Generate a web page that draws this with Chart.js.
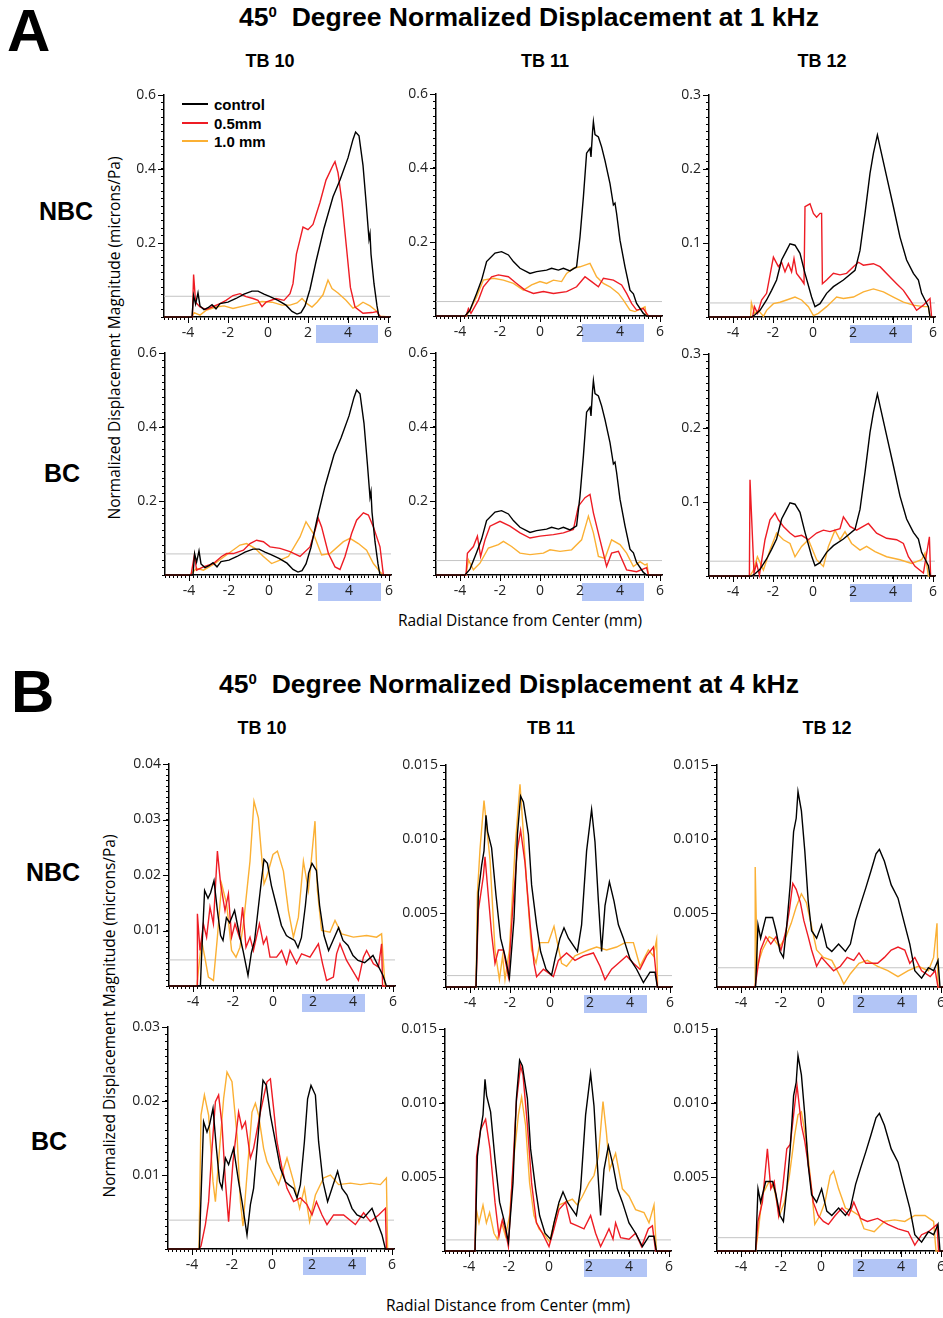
<!DOCTYPE html>
<html lang="en">
<head>
<meta charset="UTF-8">
<title>45 Degree Normalized Displacement</title>
<script src="https://cdn.jsdelivr.net/npm/chart.js"></script>
<style>
  body { margin: 0; background: #fff; overflow: hidden; }
  #fig { position: relative; width: 943px; height: 1318px; overflow: hidden; font-family: "Liberation Sans", Arial, sans-serif; color: #000; }
  .t { position: absolute; white-space: nowrap; line-height: 1; }
  .big { font-weight: bold; font-size: 60px; }
  .title { font-weight: bold; font-size: 26.5px; transform: translateX(-50%); }
  .title sup { font-size: 15px; vertical-align: 9px; }
  .tb { font-weight: bold; font-size: 18px; transform: translateX(-50%); }
  .grp { font-weight: bold; font-size: 25px; transform: translateX(-50%); }
  .ytitle { font-family: "Open Sans", sans-serif; font-size: 15.5px; transform: translate(-50%, -50%) rotate(-90deg); }
  .xtitle { font-family: "Open Sans", sans-serif; font-size: 15.5px; transform: translate(-50%, -50%); }
  .leg { font-weight: bold; font-size: 15px; }
  .legline { position: absolute; height: 2px; width: 26px; }
  canvas { position: absolute; }
</style>
</head>
<body>
<div id="fig">
  <div class="t big" style="left:7px; top:1px;">A</div>
  <div class="t big" style="left:11px; top:662px;">B</div>

  <div class="t title" style="left:529px; top:4px;">45<sup>0</sup>&nbsp; Degree Normalized Displacement at 1 kHz</div>
  <div class="t title" style="left:509px; top:671px;">45<sup>0</sup>&nbsp; Degree Normalized Displacement at 4 kHz</div>

  <div class="t tb" style="left:270px; top:52px;">TB 10</div>
  <div class="t tb" style="left:545px; top:52px;">TB 11</div>
  <div class="t tb" style="left:822px; top:52px;">TB 12</div>
  <div class="t tb" style="left:262px; top:719px;">TB 10</div>
  <div class="t tb" style="left:551px; top:719px;">TB 11</div>
  <div class="t tb" style="left:827px; top:719px;">TB 12</div>

  <div class="t grp" style="left:66px; top:199px;">NBC</div>
  <div class="t grp" style="left:62px; top:461px;">BC</div>
  <div class="t grp" style="left:53px; top:860px;">NBC</div>
  <div class="t grp" style="left:49px; top:1129px;">BC</div>

  <div class="t ytitle" style="left:115px; top:338px;">Normalized Displacement Magnitude (microns/Pa)</div>
  <div class="t ytitle" style="left:110px; top:1016px;">Normalized Displacement Magnitude (microns/Pa)</div>
  <div class="t xtitle" style="left:520px; top:621px;">Radial Distance from Center (mm)</div>
  <div class="t xtitle" style="left:508px; top:1306px;">Radial Distance from Center (mm)</div>

  <div class="legline" style="left:182px; top:103px; background:#000;"></div>
  <div class="legline" style="left:182px; top:122px; background:#ee1c24;"></div>
  <div class="legline" style="left:182px; top:140px; background:#fbb034;"></div>
  <div class="t leg" style="left:214px; top:97px;">control</div>
  <div class="t leg" style="left:214px; top:116px;">0.5mm</div>
  <div class="t leg" style="left:214px; top:134px;">1.0 mm</div>
</div>

<script>
  // x range shared by every panel (mm)
  const xMin = -5.2, xMax = 6.1;

  // ---- A: 1 kHz ----
  const ctrlA10 = [[-5.2,0],[-3.8,0],[-3.72,0.058],[-3.62,0.035],[-3.5,0.065],[-3.4,0.03],[-3.2,0.02],[-3.0,0.025],[-2.8,0.033],[-2.6,0.022],[-2.4,0.036],[-2.0,0.04],[-1.6,0.05],[-1.2,0.062],[-0.8,0.07],[-0.5,0.07],[-0.2,0.062],[0.1,0.055],[0.5,0.045],[0.9,0.032],[1.2,0.015],[1.45,0.008],[1.65,0.012],[1.85,0.03],[2.1,0.075],[2.4,0.15],[2.8,0.24],[3.25,0.325],[3.6,0.37],[4.0,0.43],[4.25,0.48],[4.38,0.5],[4.55,0.49],[4.75,0.41],[4.92,0.3],[5.05,0.21],[5.1,0.225],[5.15,0.17],[5.3,0.09],[5.45,0.03],[5.55,0],[6.1,0]];
  const redA10nbc = [[-5.2,0],[-3.78,0],[-3.72,0.115],[-3.62,0.04],[-3.4,0.027],[-3.1,0.02],[-2.8,0.027],[-2.4,0.036],[-2.1,0.045],[-1.75,0.058],[-1.4,0.063],[-1.1,0.055],[-0.75,0.05],[-0.5,0.045],[-0.3,0.028],[-0.1,0.04],[0.4,0.05],[0.8,0.045],[1.1,0.063],[1.25,0.09],[1.42,0.17],[1.58,0.205],[1.75,0.243],[2.0,0.236],[2.25,0.25],[2.6,0.31],[2.9,0.37],[3.25,0.41],[3.35,0.42],[3.5,0.39],[3.7,0.31],[3.92,0.19],[4.12,0.08],[4.35,0.027],[4.75,0.01],[5.2,0.012],[5.45,0.015],[5.55,0.005],[5.65,0],[6.1,0]];
  const orgA10nbc = [[-5.2,0],[-3.8,0],[-3.7,0.012],[-3.4,0.005],[-3.1,0.018],[-2.6,0.027],[-2.2,0.03],[-1.75,0.023],[-1.2,0.03],[-0.75,0.036],[-0.3,0.042],[0.2,0.04],[0.7,0.032],[1.1,0.032],[1.45,0.038],[1.7,0.05],[1.95,0.036],[2.2,0.027],[2.45,0.04],[2.75,0.06],[3.0,0.1],[3.2,0.077],[3.5,0.065],[3.9,0.045],[4.25,0.024],[4.5,0.03],[4.75,0.04],[5.1,0.03],[5.45,0.015],[5.6,0.002],[6.1,0]];
  const redA10bc = [[-5.2,0],[-3.9,0],[-3.73,0.054],[-3.62,0.013],[-3.28,0.022],[-2.78,0.031],[-2.37,0.05],[-2.12,0.058],[-1.78,0.058],[-1.28,0.067],[-0.95,0.085],[-0.62,0.094],[-0.28,0.09],[0.05,0.076],[0.55,0.072],[1.05,0.063],[1.55,0.05],[2.05,0.076],[2.3,0.12],[2.47,0.153],[2.63,0.13],[2.97,0.058],[3.3,0.022],[3.55,0.015],[3.8,0.05],[4.13,0.112],[4.38,0.148],[4.72,0.168],[4.97,0.162],[5.22,0.13],[5.55,0.076],[5.72,0],[6.1,0]];
  const orgA10bc = [[-5.2,0],[-3.95,0],[-3.62,0.018],[-3.28,0.013],[-2.7,0.031],[-2.03,0.058],[-1.45,0.081],[-1.12,0.085],[-0.7,0.072],[-0.28,0.05],[0.13,0.031],[0.55,0.04],[0.97,0.05],[1.55,0.103],[1.85,0.144],[2.22,0.112],[2.63,0.054],[3.05,0.058],[3.72,0.09],[4.05,0.099],[4.47,0.085],[4.88,0.067],[5.22,0.031],[5.55,0.009],[5.7,0],[6.1,0]];

  const ctrlA11 = [[-5.2,0],[-3.75,0],[-3.5,0.016],[-3.17,0.061],[-2.92,0.097],[-2.67,0.147],[-2.25,0.17],[-1.92,0.174],[-1.58,0.165],[-1.33,0.147],[-1.0,0.129],[-0.5,0.115],[-0.17,0.12],[0.33,0.124],[0.58,0.129],[0.92,0.124],[1.17,0.129],[1.5,0.122],[1.83,0.133],[2.0,0.214],[2.17,0.322],[2.33,0.44],[2.5,0.453],[2.55,0.43],[2.63,0.5],[2.67,0.525],[2.75,0.49],[2.92,0.484],[3.08,0.457],[3.25,0.42],[3.5,0.358],[3.67,0.3],[3.75,0.305],[3.83,0.277],[4.0,0.205],[4.25,0.133],[4.5,0.07],[4.67,0.06],[4.83,0.034],[5.17,0.007],[5.33,0],[6.1,0]];
  const redA11nbc = [[-5.2,0],[-3.7,0],[-3.58,0.02],[-3.45,0.007],[-3.08,0.043],[-2.83,0.079],[-2.42,0.106],[-2.08,0.111],[-1.58,0.106],[-1.17,0.088],[-0.75,0.07],[-0.33,0.061],[0.17,0.066],[0.67,0.061],[1.33,0.066],[1.83,0.079],[2.25,0.106],[2.58,0.093],[2.92,0.079],[3.17,0.102],[3.67,0.097],[4.08,0.084],[4.33,0.061],[4.58,0.034],[4.83,0.016],[5.17,0.02],[5.33,0.007],[5.42,0],[6.1,0]];
  const orgA11nbc = [[-5.2,0],[-3.7,0],[-3.5,0.016],[-3.17,0.052],[-2.83,0.097],[-2.33,0.102],[-1.83,0.097],[-1.33,0.088],[-0.83,0.07],[-0.42,0.084],[0,0.093],[0.33,0.088],[0.67,0.097],[1.08,0.093],[1.33,0.115],[1.67,0.129],[2.0,0.133],[2.5,0.142],[2.83,0.106],[3.17,0.088],[3.5,0.079],[3.92,0.061],[4.17,0.043],[4.5,0.016],[4.75,0.012],[5.25,0.025],[5.3,0.005],[5.42,0],[6.1,0]];
  const redA11bc = [[-5.2,0],[-3.7,0],[-3.63,0.059],[-3.33,0.077],[-3.13,0.105],[-2.97,0.05],[-2.75,0.095],[-2.5,0.132],[-2.0,0.145],[-1.5,0.132],[-1.0,0.114],[-0.5,0.1],[0,0.105],[0.67,0.109],[1.17,0.114],[1.67,0.123],[1.92,0.186],[2.25,0.209],[2.5,0.218],[2.67,0.168],[3.0,0.095],[3.33,0.023],[3.58,0.059],[3.92,0.064],[4.33,0.014],[4.83,0.009],[5.33,0.02],[5.42,0],[6.1,0]];
  const orgA11bc = [[-5.2,0],[-3.7,0],[-3.58,0.041],[-3.33,0.014],[-3.0,0.032],[-2.58,0.073],[-2.08,0.082],[-1.83,0.091],[-1.42,0.077],[-1.0,0.059],[-0.5,0.055],[0.17,0.059],[0.5,0.068],[1.0,0.064],[1.58,0.068],[2.08,0.095],[2.42,0.159],[2.67,0.114],[2.92,0.05],[3.25,0.045],[3.58,0.095],[4.0,0.082],[4.33,0.059],[4.67,0.023],[5.0,0.036],[5.25,0.027],[5.35,0.03],[5.42,0],[6.1,0]];

  const ctrlA12 = [[-5.2,0],[-3.07,0],[-2.9,0.003],[-2.65,0.009],[-2.32,0.023],[-2.07,0.036],[-1.82,0.05],[-1.57,0.077],[-1.32,0.09],[-1.15,0.099],[-0.9,0.097],[-0.65,0.086],[-0.4,0.059],[-0.07,0.027],[0.1,0.014],[0.35,0.018],[0.68,0.032],[1.02,0.041],[1.52,0.05],[2.1,0.063],[2.35,0.09],[2.6,0.14],[2.85,0.194],[3.02,0.221],[3.22,0.246],[3.35,0.23],[3.68,0.19],[4.02,0.149],[4.35,0.108],[4.68,0.077],[5.02,0.059],[5.27,0.05],[5.43,0.032],[5.6,0.023],[5.77,0.014],[5.85,0],[6.1,0]];
  const redA12nbc = [[-5.2,0],[-3.02,0],[-2.93,0.014],[-2.77,0.005],[-2.57,0.023],[-2.32,0.032],[-2.07,0.068],[-1.98,0.081],[-1.73,0.068],[-1.57,0.074],[-1.4,0.061],[-1.23,0.072],[-1.07,0.061],[-0.95,0.079],[-0.82,0.059],[-0.57,0.05],[-0.45,0.045],[-0.4,0.149],[-0.15,0.153],[0.02,0.14],[0.18,0.135],[0.35,0.14],[0.43,0.14],[0.47,0.045],[0.68,0.05],[1.02,0.059],[1.35,0.057],[1.68,0.059],[2.02,0.068],[2.27,0.074],[2.52,0.07],[3.02,0.072],[3.35,0.068],[3.85,0.054],[4.18,0.045],[4.52,0.036],[4.85,0.023],[5.18,0.009],[5.52,0.016],[5.77,0.023],[5.85,0.025],[5.93,0],[6.1,0]];
  const orgA12nbc = [[-5.2,0],[-3.12,0],[-3.08,0.019],[-2.93,0.005],[-2.73,0.009],[-2.48,0.001],[-2.32,0.009],[-1.98,0.018],[-1.65,0.02],[-1.32,0.023],[-0.9,0.027],[-0.57,0.023],[-0.23,0.014],[0.02,0.002],[0.27,0.005],[0.68,0.014],[1.18,0.027],[1.52,0.025],[2.02,0.027],[2.52,0.034],[3.02,0.038],[3.52,0.034],[4.02,0.027],[4.52,0.02],[5.02,0.016],[5.52,0.014],[5.77,0.014],[5.85,0],[6.1,0]];
  const redA12bc = [[-5.2,0],[-3.18,0],[-3.15,0.13],[-2.95,0.004],[-2.82,0.017],[-2.68,0.001],[-2.4,0.049],[-2.15,0.076],[-1.9,0.085],[-1.73,0.076],[-1.48,0.067],[-1.15,0.058],[-0.9,0.053],[-0.57,0.055],[-0.23,0.049],[0.18,0.058],[0.52,0.062],[0.85,0.06],[1.35,0.064],[1.52,0.08],[1.85,0.067],[2.18,0.062],[2.77,0.071],[3.18,0.058],[3.68,0.051],[4.18,0.049],[4.52,0.044],[4.77,0.026],[5.1,0.013],[5.52,0.004],[5.82,0.053],[5.88,0],[6.1,0]];
  const orgA12bc = [[-5.2,0],[-3.15,0],[-2.98,0.008],[-2.78,0.026],[-2.48,0.008],[-2.15,0.035],[-1.82,0.058],[-1.48,0.049],[-1.15,0.044],[-0.9,0.026],[-0.57,0.04],[-0.23,0.049],[0.18,0.022],[0.52,0.013],[0.77,0.04],[1.1,0.062],[1.35,0.049],[1.6,0.06],[1.93,0.044],[2.35,0.035],[2.68,0.04],[3.1,0.033],[3.68,0.026],[4.35,0.022],[4.93,0.017],[5.43,0.022],[5.6,0.031],[5.77,0],[6.1,0]];

  // ---- B: 4 kHz ----
  const ctrlB10 = [[-5.2,0],[-3.63,0],[-3.58,0.0046],[-3.42,0.0172],[-3.25,0.0158],[-3.12,0.0168],[-2.95,0.019],[-2.78,0.0136],[-2.62,0.0091],[-2.5,0.0082],[-2.33,0.0123],[-2.17,0.0114],[-1.92,0.0136],[-1.67,0.0091],[-1.5,0.0064],[-1.25,0.0019],[-1.08,0.006],[-0.92,0.0082],[-0.75,0.0136],[-0.58,0.019],[-0.45,0.0228],[-0.28,0.0221],[-0.08,0.0181],[0.17,0.0145],[0.42,0.0109],[0.67,0.0091],[0.83,0.0087],[1.08,0.0082],[1.25,0.0069],[1.42,0.0087],[1.62,0.0145],[1.78,0.0203],[1.95,0.0221],[2.17,0.0208],[2.33,0.0145],[2.55,0.0091],[2.78,0.0064],[3.0,0.0082],[3.28,0.0105],[3.5,0.0082],[3.75,0.0073],[4.0,0.0055],[4.25,0.0046],[4.58,0.0042],[5.0,0.0055],[5.25,0.0037],[5.5,0.0019],[5.67,0],[6.1,0]];
  const redB10nbc = [[-5.2,0],[-3.8,0],[-3.78,0.013],[-3.65,0.0064],[-3.48,0.0112],[-3.32,0.0088],[-3.15,0.0142],[-2.98,0.0112],[-2.78,0.0243],[-2.62,0.0184],[-2.4,0.0136],[-2.23,0.0166],[-2.07,0.0088],[-1.9,0.0112],[-1.68,0.0088],[-1.52,0.0142],[-1.35,0.007],[-1.15,0.0088],[-0.98,0.0064],[-0.68,0.0112],[-0.48,0.0076],[-0.32,0.0088],[-0.15,0.0052],[0.18,0.0052],[0.43,0.0064],[0.68,0.004],[0.85,0.0064],[1.18,0.004],[1.43,0.0058],[1.85,0.0052],[2.27,0.0076],[2.48,0.004],[2.68,0.001],[3.02,0.0016],[3.18,0.0058],[3.35,0.0076],[3.68,0.0046],[4.27,0.001],[4.52,0.0052],[4.68,0.0064],[5.02,0.004],[5.27,0.0034],[5.43,0.0076],[5.48,0],[6.1,0]];
  const orgB10nbc = [[-5.2,0],[-3.8,0],[-3.73,0.0028],[-3.57,0.0082],[-3.4,0.005],[-3.23,0.0016],[-2.98,0.001],[-2.78,0.0088],[-2.57,0.0184],[-2.32,0.0148],[-2.07,0.0064],[-1.85,0.0052],[-1.65,0.007],[-1.48,0.0112],[-1.15,0.0225],[-0.95,0.0333],[-0.73,0.0303],[-0.45,0.0184],[-0.32,0.0196],[0,0.0237],[0.22,0.0243],[0.52,0.0207],[0.77,0.0136],[1.02,0.0088],[1.27,0.0124],[1.52,0.0225],[1.77,0.0172],[1.88,0.0213],[2.1,0.0297],[2.22,0.0172],[2.43,0.01],[2.85,0.0097],[3.1,0.0118],[3.43,0.0094],[4.02,0.0088],[4.68,0.0091],[5.18,0.0088],[5.43,0.0094],[5.6,0],[6.1,0]];
  const redB10bc = [[-5.2,0],[-3.65,0],[-3.55,0.0004],[-3.33,0.0033],[-3.17,0.0064],[-3.0,0.0136],[-2.83,0.0199],[-2.67,0.0208],[-2.5,0.0168],[-2.33,0.0091],[-2.17,0.0037],[-1.95,0.0118],[-1.67,0.0185],[-1.5,0.0163],[-1.33,0.0172],[-1.08,0.0123],[-0.92,0.0136],[-0.58,0.0185],[-0.25,0.0226],[-0.08,0.023],[0.08,0.019],[0.25,0.0145],[0.5,0.0109],[0.75,0.0082],[1.08,0.0064],[1.42,0.0069],[1.75,0.006],[2.0,0.0046],[2.22,0.0064],[2.5,0.0046],[2.75,0.0033],[3.08,0.0046],[3.58,0.0046],[4.17,0.0033],[4.58,0.0049],[4.92,0.0037],[5.33,0.0046],[5.67,0.0055],[5.72,0],[6.1,0]];
  const orgB10bc = [[-5.2,0],[-3.65,0],[-3.55,0.0181],[-3.38,0.0208],[-3.17,0.0181],[-2.95,0.0091],[-2.83,0.0064],[-2.62,0.0136],[-2.42,0.0203],[-2.25,0.0239],[-2.0,0.0226],[-1.75,0.0154],[-1.58,0.0064],[-1.45,0.0031],[-1.25,0.01],[-1.0,0.0185],[-0.83,0.0197],[-0.67,0.0181],[-0.42,0.0136],[-0.25,0.0118],[0.08,0.01],[0.33,0.0087],[0.75,0.0123],[1.08,0.0091],[1.38,0.0055],[1.62,0.0082],[1.88,0.0037],[2.17,0.0073],[2.58,0.0096],[2.92,0.01],[3.33,0.0087],[3.92,0.0089],[4.42,0.0087],[4.92,0.0089],[5.42,0.0087],[5.72,0.0096],[5.78,0],[6.1,0]];

  const ctrlB11 = [[-5.2,0],[-3.7,0],[-3.58,0.0064],[-3.42,0.0082],[-3.3,0.0092],[-3.2,0.0116],[-3.12,0.0105],[-2.92,0.0094],[-2.7,0.0062],[-2.47,0.0033],[-2.25,0.0021],[-2.03,0.0006],[-1.8,0.0046],[-1.63,0.0103],[-1.47,0.0129],[-1.33,0.0125],[-1.08,0.0103],[-0.92,0.0069],[-0.67,0.0042],[-0.47,0.0024],[-0.2,0.0012],[0.08,0.0008],[0.25,0.0019],[0.5,0.0033],[0.7,0.004],[0.92,0.0033],[1.17,0.0028],[1.37,0.0024],[1.58,0.0042],[1.83,0.0092],[2.08,0.012],[2.25,0.0098],[2.42,0.0058],[2.58,0.0024],[2.75,0.0055],[2.97,0.0071],[3.2,0.0058],[3.42,0.0042],[3.67,0.0033],[4.0,0.0019],[4.33,0.0012],[4.67,0.0003],[5.0,0.001],[5.25,0.001],[5.37,0],[6.1,0]];
  const redB11nbc = [[-5.2,0],[-3.7,0],[-3.58,0.0052],[-3.33,0.0075],[-3.25,0.0088],[-3.08,0.0061],[-2.92,0.0036],[-2.75,0.0016],[-2.58,0.0025],[-2.33,0.0025],[-2.08,0.0007],[-1.87,0.0052],[-1.63,0.0093],[-1.47,0.0106],[-1.25,0.0084],[-1.0,0.0043],[-0.8,0.0016],[-0.67,0.0007],[-0.33,0.0012],[0.17,0.0007],[0.42,0.0018],[0.83,0.0023],[1.25,0.0018],[1.67,0.0021],[2.17,0.0023],[2.5,0.0014],[2.75,0.0005],[3.08,0.0012],[3.42,0.0016],[3.83,0.0021],[4.17,0.0016],[4.5,0.0012],[4.83,0.0021],[5.17,0.0027],[5.37,0],[6.1,0]];
  const orgB11nbc = [[-5.2,0],[-3.7,0],[-3.63,0.0063],[-3.5,0.0093],[-3.3,0.0126],[-3.0,0.0086],[-2.75,0.0025],[-2.53,0.0005],[-2.37,0.0021],[-2.25,0.0005],[-2.03,0.0025],[-1.75,0.0093],[-1.5,0.0137],[-1.33,0.0104],[-1.17,0.007],[-0.92,0.0025],[-0.7,0.0016],[-0.5,0.003],[-0.08,0.003],[0.2,0.0041],[0.58,0.0016],[0.83,0.0014],[1.25,0.0021],[1.58,0.0023],[1.92,0.0025],[2.33,0.0027],[2.83,0.0025],[3.33,0.0027],[3.75,0.003],[4.17,0.003],[4.5,0.0014],[4.92,0.0025],[5.17,0.0021],[5.33,0.0032],[5.38,0],[6.1,0]];
  const redB11bc = [[-5.2,0],[-3.7,0],[-3.62,0.0064],[-3.42,0.0082],[-3.17,0.0089],[-2.95,0.0069],[-2.7,0.0033],[-2.5,0.001],[-2.33,0.0021],[-2.2,0.0015],[-2.03,0.0003],[-1.8,0.0058],[-1.63,0.0101],[-1.42,0.0125],[-1.3,0.0119],[-1.08,0.0085],[-0.87,0.0046],[-0.63,0.0019],[-0.33,0.0012],[0,0.0003],[0.25,0.0015],[0.5,0.0028],[0.83,0.0033],[1.08,0.0019],[1.42,0.0017],[1.75,0.0015],[2.08,0.0024],[2.33,0.0012],[2.58,0.0003],[2.83,0.001],[3.0,0.0015],[3.2,0.0008],[3.33,0.0019],[3.58,0.0009],[4.0,0.0008],[4.33,0.0012],[4.63,0.0003],[4.97,0.0015],[5.17,0.0017],[5.33,0],[6.1,0]];
  const orgB11bc = [[-5.2,0],[-3.7,0],[-3.63,0.0028],[-3.5,0.0019],[-3.3,0.0031],[-3.13,0.0019],[-2.97,0.0026],[-2.75,0.0012],[-2.58,0.0008],[-2.37,0.0019],[-2.17,0.001],[-1.97,0.0024],[-1.75,0.0064],[-1.53,0.0092],[-1.37,0.0104],[-1.17,0.0085],[-0.97,0.0046],[-0.75,0.0024],[-0.5,0.0015],[-0.17,0.001],[0.03,0.0006],[0.25,0.0019],[0.5,0.0031],[0.83,0.0033],[1.17,0.0035],[1.42,0.0031],[1.67,0.0037],[2.0,0.0046],[2.25,0.0051],[2.47,0.0064],[2.7,0.0101],[2.87,0.008],[3.03,0.0055],[3.33,0.0066],[3.67,0.0042],[4.0,0.0037],[4.33,0.0028],[4.75,0.0026],[5.0,0.0019],[5.25,0.0031],[5.37,0],[6.1,0]];

  const ctrlB12 = [[-5.2,0],[-3.27,0],[-3.15,0.0042],[-3.02,0.0033],[-2.76,0.0047],[-2.42,0.0047],[-2.25,0.0038],[-2.05,0.0024],[-1.88,0.002],[-1.71,0.0042],[-1.54,0.0069],[-1.37,0.0105],[-1.24,0.0114],[-1.15,0.0132],[-0.98,0.0119],[-0.81,0.0092],[-0.64,0.0058],[-0.47,0.0038],[-0.22,0.0033],[0.03,0.0042],[0.29,0.0027],[0.54,0.0024],[0.88,0.0029],[1.22,0.0024],[1.47,0.0029],[1.73,0.0045],[1.98,0.0056],[2.24,0.0067],[2.49,0.0078],[2.75,0.009],[2.92,0.0093],[3.17,0.0085],[3.51,0.0069],[3.85,0.006],[4.19,0.0042],[4.44,0.0029],[4.69,0.0011],[5.03,0.0006],[5.37,0.0013],[5.63,0.0011],[5.85,0.0018],[5.95,0],[6.1,0]];
  const redB12nbc = [[-5.2,0],[-3.3,0],[-3.15,0.0014],[-3.02,0.0025],[-2.76,0.0034],[-2.51,0.0029],[-2.25,0.0034],[-2.0,0.0025],[-1.75,0.0038],[-1.58,0.0052],[-1.41,0.007],[-1.24,0.0066],[-1.03,0.0057],[-0.86,0.0045],[-0.64,0.0034],[-0.47,0.0025],[-0.22,0.0014],[0.03,0.002],[0.29,0.0016],[0.63,0.0011],[0.97,0.0014],[1.31,0.002],[1.64,0.0018],[1.9,0.0023],[2.24,0.0016],[2.83,0.0016],[3.17,0.002],[3.51,0.0025],[3.85,0.0027],[4.19,0.0025],[4.44,0.0016],[4.69,0.002],[5.03,0.0011],[5.46,0.0007],[5.71,0.0011],[5.85,0],[6.1,0]];
  const orgB12nbc = [[-5.2,0],[-3.3,0],[-3.29,0.0081],[-3.19,0.0014],[-2.93,0.0025],[-2.59,0.0034],[-2.34,0.0032],[-2.08,0.0027],[-1.75,0.0034],[-1.49,0.0043],[-1.24,0.0054],[-0.98,0.0063],[-0.73,0.0057],[-0.47,0.0041],[-0.22,0.0025],[0.12,0.002],[0.54,0.0018],[0.97,0.0007],[1.14,0.0002],[1.47,0.0009],[1.9,0.0016],[2.32,0.0018],[2.83,0.0014],[3.34,0.0011],[3.85,0.0007],[4.36,0.0011],[4.86,0.0014],[5.37,0.0011],[5.63,0.002],[5.8,0.0043],[5.85,0],[6.1,0]];
  const redB12bc = [[-5.2,0],[-3.27,0],[-3.15,0.002],[-2.93,0.0033],[-2.68,0.0069],[-2.51,0.0042],[-2.34,0.0047],[-2.12,0.0024],[-1.92,0.0042],[-1.71,0.0069],[-1.54,0.0072],[-1.37,0.0092],[-1.2,0.0112],[-0.98,0.0085],[-0.81,0.0074],[-0.59,0.0054],[-0.39,0.0033],[-0.14,0.0024],[0.12,0.002],[0.37,0.0018],[0.71,0.0024],[1.05,0.0029],[1.39,0.0024],[1.64,0.0033],[1.98,0.0022],[2.32,0.002],[2.83,0.0022],[3.34,0.0018],[3.85,0.0015],[4.36,0.0013],[4.69,0.0004],[5.03,0.0011],[5.37,0.0013],[5.8,0.0018],[5.88,0],[6.1,0]];
  const orgB12bc = [[-5.2,0],[-3.27,0],[-3.14,0.0013],[-2.93,0.0038],[-2.59,0.0047],[-2.34,0.0042],[-2.08,0.0024],[-1.83,0.0033],[-1.58,0.0051],[-1.32,0.0078],[-1.15,0.0092],[-0.98,0.0094],[-0.73,0.0074],[-0.47,0.0042],[-0.31,0.0018],[-0.05,0.0024],[0.2,0.0033],[0.46,0.0051],[0.63,0.0054],[0.88,0.0042],[1.22,0.0029],[1.56,0.0027],[1.9,0.0024],[2.15,0.0015],[2.66,0.0013],[3.17,0.002],[3.68,0.0021],[4.19,0.002],[4.69,0.0024],[5.2,0.0024],[5.63,0.002],[5.75,0],[6.1,0]];

  // noise floor levels (grey lines)
  const floors = { a10nbc: 0.056, a11nbc: 0.039, a12nbc: 0.019, a10bc: 0.057, a11bc: 0.039, a12bc: 0.02,
                   b10nbc: 0.0047, b11nbc: 0.00077, b12nbc: 0.0013, b10bc: 0.0039, b11bc: 0.00075, b12bc: 0.0009 };
  // blue bands under the x axis (mm)
  const bands = { a10nbc: [2.4, 5.5], a11nbc: [2.1, 5.2], a12nbc: [1.85, 4.95], a10bc: [2.45, 5.6], a11bc: [2.1, 5.2], a12bc: [1.85, 4.95],
                  b10nbc: [1.45, 4.6], b11nbc: [1.7, 4.85], b12nbc: [1.6, 4.8], b10bc: [1.55, 4.7], b11bc: [1.75, 4.9], b12bc: [1.6, 4.8] };
  // y axis: max, minor step, labelled step, decimals
  const yAxes = { a10: [0.6, 0.02, 0.2, 1], a11: [0.6, 0.02, 0.2, 1], a12: [0.3, 0.01, 0.1, 1],
                  b10nbc: [0.04, 0.001, 0.01, 2], b10bc: [0.03, 0.001, 0.01, 2], b11: [0.015, 0.0005, 0.005, 3], b12: [0.015, 0.0005, 0.005, 3] };

  const panels = [
    { key: 'a10nbc', y: yAxes.a10, left: 164, top: 95, lines: [ctrlA10, redA10nbc, orgA10nbc] },
    { key: 'a11nbc', y: yAxes.a11, left: 436, top: 94, lines: [ctrlA11, redA11nbc, orgA11nbc] },
    { key: 'a12nbc', y: yAxes.a12, left: 709, top: 95, lines: [ctrlA12, redA12nbc, orgA12nbc] },
    { key: 'a10bc', y: yAxes.a10, left: 165, top: 353, lines: [ctrlA10, redA10bc, orgA10bc] },
    { key: 'a11bc', y: yAxes.a11, left: 436, top: 353, lines: [ctrlA11, redA11bc, orgA11bc] },
    { key: 'a12bc', y: yAxes.a12, left: 709, top: 354, lines: [ctrlA12, redA12bc, orgA12bc] },
    { key: 'b10nbc', y: yAxes.b10nbc, left: 169, top: 764, lines: [ctrlB10, redB10nbc, orgB10nbc] },
    { key: 'b11nbc', y: yAxes.b11, left: 446, top: 765, lines: [ctrlB11, redB11nbc, orgB11nbc] },
    { key: 'b12nbc', y: yAxes.b12, left: 717, top: 765, lines: [ctrlB12, redB12nbc, orgB12nbc] },
    { key: 'b10bc', y: yAxes.b10bc, left: 168, top: 1027, lines: [ctrlB10, redB10bc, orgB10bc] },
    { key: 'b11bc', y: yAxes.b11, left: 445, top: 1029, lines: [ctrlB11, redB11bc, orgB11bc] },
    { key: 'b12bc', y: yAxes.b12, left: 717, top: 1029, lines: [ctrlB12, redB12bc, orgB12bc] }
  ];

  const colors = ['#000000', '#ee1c24', '#fbb034'];
  const AX_W = 50, AX_H = 34, PAD_T = 10, PAD_R = 14, PLOT_W = 226, PLOT_H = 222;

  function steps(min, max, step) {
    const out = [];
    for (let i = Math.round(min / step); i * step <= max + 1e-9; i++) out.push(+(i * step).toFixed(6));
    return out;
  }
  const isMult = (v, s) => Math.abs(v / s - Math.round(v / s)) < 1e-6;

  // blue highlight band drawn behind the x tick labels
  const bandPlugin = {
    id: 'band',
    beforeDraw(chart, args, opts) {
      const { ctx, chartArea, scales: { x } } = chart;
      const x0 = x.getPixelForValue(opts.range[0]), x1 = x.getPixelForValue(opts.range[1]);
      ctx.save();
      ctx.fillStyle = '#b2c5f6';
      ctx.fillRect(x0, chartArea.bottom + 8, x1 - x0, 18);
      ctx.restore();
    }
  };

  // longer tick marks where there is a label
  const majorTicks = {
    id: 'majorTicks',
    afterDraw(chart) {
      const { ctx, chartArea, scales: { x, y } } = chart;
      ctx.save();
      ctx.strokeStyle = '#000';
      ctx.lineWidth = 1;
      ctx.beginPath();
      x.ticks.forEach(t => {
        if (t.label !== '') {
          const p = Math.round(x.getPixelForValue(t.value)) + 0.5;
          ctx.moveTo(p, chartArea.bottom); ctx.lineTo(p, chartArea.bottom + 6);
        }
      });
      y.ticks.forEach(t => {
        if (t.label !== '') {
          const p = Math.round(y.getPixelForValue(t.value)) + 0.5;
          ctx.moveTo(chartArea.left, p); ctx.lineTo(chartArea.left - 6, p);
        }
      });
      ctx.stroke();
      ctx.restore();
    }
  };

  const fig = document.getElementById('fig');
  panels.forEach(p => {
    const [yMax, yStep, yMajor, dec] = p.y;
    const canvas = document.createElement('canvas');
    canvas.width = AX_W + PLOT_W + PAD_R;
    canvas.height = PAD_T + PLOT_H + AX_H;
    canvas.style.left = (p.left - AX_W) + 'px';
    canvas.style.top = (p.top - PAD_T) + 'px';
    fig.appendChild(canvas);

    const datasets = p.lines.map((pts, i) => ({
      data: pts.map(([x, y]) => ({ x, y })),
      borderColor: colors[i],
      borderWidth: 1.4,
      pointRadius: 0,
      tension: 0,
      clip: 4
    }));
    datasets.push({
      data: [{ x: xMin, y: floors[p.key] }, { x: xMax, y: floors[p.key] }],
      borderColor: '#c4c4c4',
      borderWidth: 1,
      pointRadius: 0
    });

    new Chart(canvas, {
      type: 'line',
      data: { datasets },
      options: {
        responsive: false,
        animation: false,
        events: [],
        layout: { padding: { top: PAD_T, right: PAD_R, left: 0, bottom: 0 } },
        plugins: { legend: { display: false }, tooltip: { enabled: false }, band: { range: bands[p.key] } },
        scales: {
          x: {
            type: 'linear', min: xMin, max: xMax,
            afterBuildTicks: s => { s.ticks = steps(-5.2, 6.0, 0.2).map(v => ({ value: v })); },
            afterFit: s => { s.height = AX_H; s.paddingLeft = 0; s.paddingRight = 0; },
            border: { display: true, color: '#000', width: 1.5 },
            grid: { drawOnChartArea: false, color: '#000', tickLength: 3, tickWidth: 1 },
            ticks: {
              autoSkip: false, maxRotation: 0, minRotation: 0, padding: 5, color: '#222',
              font: { family: 'Open Sans', size: 14 },
              callback: v => { const r = Math.round(v); return (isMult(v, 1) && r % 2 === 0) ? String(r) : ''; }
            }
          },
          y: {
            min: 0, max: yMax,
            afterBuildTicks: s => { s.ticks = steps(0, yMax, yStep).map(v => ({ value: v })); },
            afterFit: s => { s.width = AX_W; s.paddingTop = 0; s.paddingBottom = 0; },
            border: { display: true, color: '#000', width: 1.5 },
            grid: { drawOnChartArea: false, color: '#000', tickLength: 3, tickWidth: 1 },
            ticks: {
              autoSkip: false, padding: 5, color: '#222',
              font: { family: 'Open Sans', size: 14 },
              callback: v => (v > 0 && isMult(v, yMajor)) ? v.toFixed(dec) : ''
            }
          }
        }
      },
      plugins: [bandPlugin, majorTicks]
    });
  });
</script>
</body>
</html>
